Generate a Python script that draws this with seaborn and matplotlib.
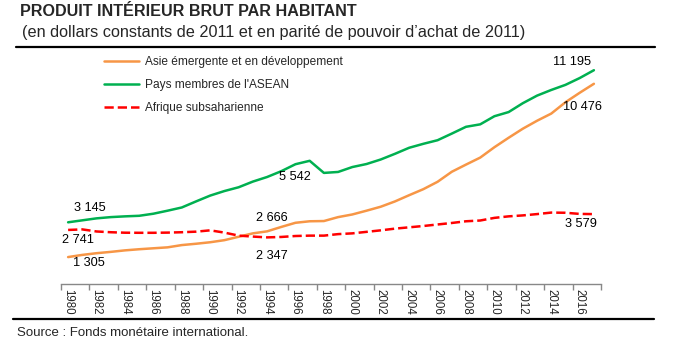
import numpy as np
import pandas as pd
import matplotlib
matplotlib.use("Agg")
import matplotlib.pyplot as plt
from matplotlib.lines import Line2D
import seaborn as sns

years = list(range(1980, 2018))

asie = [1305, 1420, 1510, 1580, 1660, 1720, 1770, 1820, 1940, 2010,
        2090, 2200, 2380, 2560, 2666, 2900, 3120, 3200, 3212, 3420,
        3560, 3760, 3970, 4250, 4580, 4900, 5290, 5820, 6200, 6570,
        7120, 7620, 8100, 8520, 8900, 9500, 10000, 10476]

asean = [3145, 3250, 3354, 3420, 3460, 3490, 3600, 3760, 3930, 4250,
         4560, 4800, 5000, 5300, 5542, 5850, 6220, 6400, 5760, 5810,
         6070, 6230, 6470, 6770, 7090, 7300, 7490, 7840, 8200, 8330,
         8760, 8980, 9450, 9850, 10150, 10420, 10780, 11195]

afrique = [2741, 2770, 2660, 2620, 2595, 2590, 2590, 2600, 2620, 2650,
           2720, 2600, 2440, 2390, 2347, 2370, 2420, 2440, 2440, 2520,
           2560, 2640, 2720, 2810, 2880, 2950, 3030, 3110, 3200, 3240,
           3380, 3460, 3510, 3580, 3660, 3650, 3590, 3579]

series_names = ["Asie émergente et en développement",
                "Pays membres de l'ASEAN",
                "Afrique subsaharienne"]
colors = ["#F79646", "#00B050", "#FF0000"]

tick_years = list(range(1980, 2017, 2))

title = "PRODUIT INTÉRIEUR BRUT PAR HABITANT"
subtitle = "(en dollars constants de 2011 et en parité de pouvoir d\u2019achat de 2011)"
source = "Source : Fonds monétaire international."

df = pd.DataFrame({
    "annee": years * 3,
    "valeur": asie + asean + afrique,
    "serie": [series_names[0]] * len(years) + [series_names[1]] * len(years) + [series_names[2]] * len(years),
})

sns.set_theme(style="white")
plt.rcParams["font.family"] = ["Liberation Sans", "DejaVu Sans"]

W, H = 680, 348
fig = plt.figure(figsize=(W / 100, H / 100), dpi=100)
ax = fig.add_axes([61 / W, (H - 284) / H, 540 / W, 229 / H])

palette = dict(zip(series_names, colors))
for name, ls in zip(series_names, ["-", "-", "--"]):
    sub = df[df["serie"] == name]
    sns.lineplot(data=sub, x="annee", y="valeur", ax=ax, color=palette[name],
                 linestyle=ls, linewidth=1.8, label=name, legend=False)

ax.set_xlim(1979.5, 2017.5)
ax.set_ylim(-120, 12000)
ax.set_xlabel("")
ax.set_ylabel("")
ax.set_yticks([])
for s in ["top", "right", "left"]:
    ax.spines[s].set_visible(False)
ax.spines["bottom"].set_color("#888888")
ax.spines["bottom"].set_linewidth(1.0)

ax.set_xticks([1979.5 + 2 * k for k in range(20)])
ax.set_xticklabels([])
ax.tick_params(axis="x", which="major", direction="out", length=4, width=1, color="#888888", bottom=True)
ax.set_xticks(tick_years, minor=True)
ax.set_xticklabels([str(y) for y in tick_years], minor=True, rotation=270, fontsize=8.3)
ax.tick_params(axis="x", which="minor", length=0, pad=3.5)

handles = [Line2D([0], [0], color=colors[0], lw=1.8),
           Line2D([0], [0], color=colors[1], lw=1.8),
           Line2D([0], [0], color=colors[2], lw=1.8, ls="--")]
fig.legend(handles, series_names, loc="upper left",
           bbox_to_anchor=(104 / W, 1 - 56 / H), frameon=False, fontsize=8.6,
           handlelength=2.95, handletextpad=0.45, labelspacing=0.92,
           borderpad=0, borderaxespad=0)

def fmt(v):
    return f"{v:,}".replace(",", " ")

labels = [
    (2017, asean[-1], -22, 8),
    (2017, asie[-1], -11, -23),
    (2017, afrique[-1], -13, -10),
    (1980, asean[0], 22, 14),
    (1980, afrique[0], 10, -10),
    (1980, asie[0], 21, -6),
    (1994, asie[14], 5, 13),
    (1994, asean[14], 28, 0),
    (1994, afrique[14], 5, -19),
]
for yr, v, dx, dy in labels:
    ax.annotate(fmt(v), xy=(yr, v), xytext=(dx, dy), textcoords="offset pixels",
                ha="center", va="center", fontsize=9.2, color="black")

fig.text(20 / W, 1 - 12 / H, title, fontsize=11.6, fontweight="bold", ha="left", va="center")
fig.text(22 / W, 1 - 33 / H, subtitle, fontsize=11.7, ha="left", va="center")
fig.text(17 / W, 1 - 333 / H, source, fontsize=9.5, ha="left", va="center")

fig.add_artist(Line2D([16 / W, 655 / W], [1 - 47 / H] * 2, color="black", lw=1.6))
fig.add_artist(Line2D([13 / W, 654 / W], [1 - 319 / H] * 2, color="black", lw=1.6))

fig.savefig("out.png", dpi=100)
